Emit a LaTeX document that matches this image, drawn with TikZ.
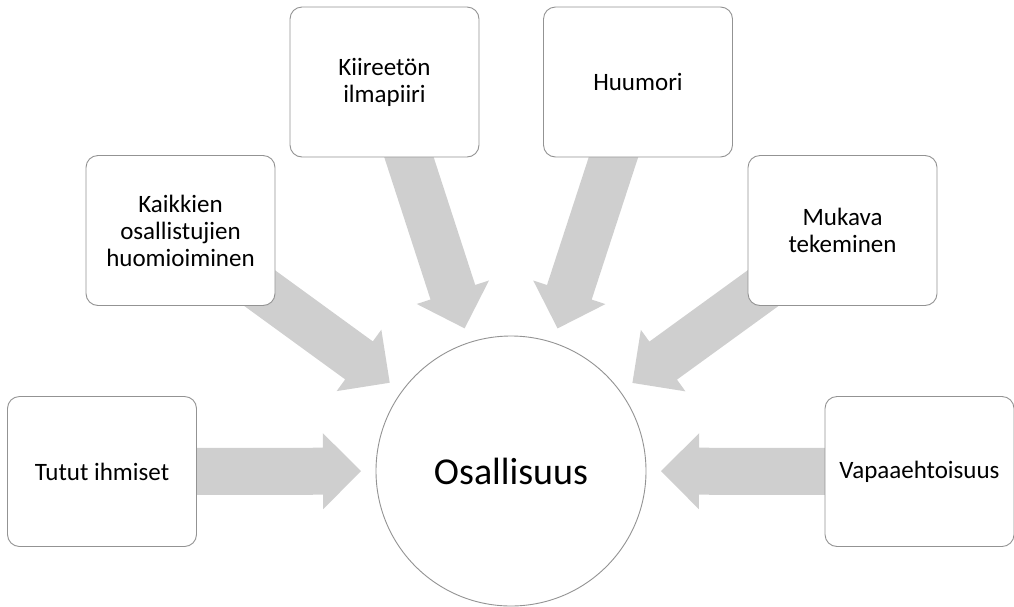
\documentclass[tikz,border=0pt]{standalone}
\usepackage{fontspec}
\setmainfont{Carlito}
\usetikzlibrary{calc,backgrounds}

\definecolor{arrowgray}{HTML}{CFCFCF}
\definecolor{edgegray}{HTML}{939393}

% Block arrow pointing from a box (#1) towards the hub (#2)
\newcommand\hubarrow[2]{%
  \fill[arrowgray]
    ($(#2)!150pt!(#1)$)
    -- ($($(#2)!188pt!(#1)$)!38pt!90:(#1)$)
    -- ($($(#2)!188pt!(#1)$)!23.5pt!90:(#1)$)
    -- ($(#1)!23.5pt!-90:(#2)$)
    -- ($(#1)!23.5pt!90:(#2)$)
    -- ($($(#2)!188pt!(#1)$)!23.5pt!-90:(#1)$)
    -- ($($(#2)!188pt!(#1)$)!38pt!-90:(#1)$)
    -- cycle;}

\tikzset{
  factor/.style={draw=edgegray, line width=0.9pt, fill=white,
    rounded corners=12pt, minimum width=189pt, minimum height=150pt,
    align=center, inner sep=2pt, font=\fontsize{25}{27}\selectfont},
  hub/.style={draw=edgegray, line width=0.9pt, fill=white, circle,
    minimum size=270pt, inner sep=0pt, font=\fontsize{38}{44}\selectfont}
}

\begin{document}
\begin{tikzpicture}[x=1pt, y=-1pt]
  \useasboundingbox (0,0) rectangle (1014,606);

  \node[hub] (hub) at (511,471) {Osallisuus};

  \node[factor] (tutut)  at (102,471.5)  {Tutut ihmiset};
  \node[factor] (kaikki) at (180.5,230.5) {Kaikkien\\osallistujien\\huomioiminen};
  \node[factor] (kiire)  at (384.5,82)   {Kiireetön\\ilmapiiri};
  \node[factor] (huumori) at (638,82)    {Huumori};
  \node[factor] (mukava) at (842.5,230.5) {Mukava\\tekeminen};
  \node[factor] (vapaa)  at (919.5,471.5) {Vapaaehtoisuus};

  \begin{scope}[on background layer]
    \hubarrow{tutut}{hub}
    \hubarrow{kaikki}{hub}
    \hubarrow{kiire}{hub}
    \hubarrow{huumori}{hub}
    \hubarrow{mukava}{hub}
    \hubarrow{vapaa}{hub}
  \end{scope}
\end{tikzpicture}
\end{document}
